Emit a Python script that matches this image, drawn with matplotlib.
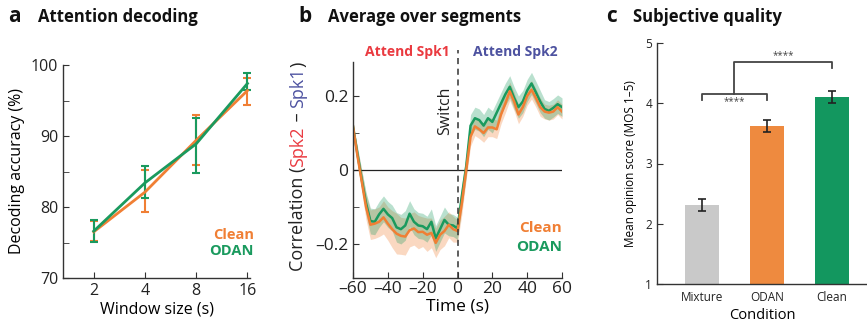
import numpy as np
import matplotlib
matplotlib.use("Agg")
import matplotlib.pyplot as plt

plt.rcParams['font.family'] = ['Open Sans', 'DejaVu Sans']
plt.rcParams['axes.unicode_minus'] = True

# colours
ORANGE = '#f07f34'
GREEN = '#1a9a5e'
GREY_BAR = '#c9c9c9'
ORANGE_BAR = '#ee8a3f'
GREEN_BAR = '#13975f'
RED_TXT = '#ea3a40'
BLUE_TXT = '#4d52a0'
AX = '#333333'

# --- a: decoding accuracy vs window size
window_sizes = [2, 4, 8, 16]
clean_acc = [76.5, 82.1, 89.4, 96.4]
clean_lo = [75.2, 79.3, 85.9, 94.4]
clean_hi = [78.0, 85.2, 93.0, 98.2]
odan_acc = [76.6, 83.4, 88.9, 97.4]
odan_lo = [75.1, 81.3, 84.8, 96.5]
odan_hi = [78.1, 85.8, 92.6, 98.9]

# --- b: correlation difference over time
time_s = [-60, -57.5, -55, -52.5, -50, -47.5, -45, -42.5, -40, -37.5, -35, -32.5,
          -30, -27.5, -25, -22.5, -20, -17.5, -15, -12.5, -10, -7.5, -5, -2.5,
          0, 2.5, 5, 7.5, 10, 12.5, 15, 17.5, 20, 22.5, 25, 27.5, 30, 32.5, 35,
          37.5, 40, 42.5, 45, 47.5, 50, 52.5, 55, 57.5, 60]
clean_corr = [0.118, 0.04, -0.03, -0.10, -0.148, -0.145, -0.14, -0.128, -0.145,
              -0.16, -0.172, -0.178, -0.18, -0.163, -0.158, -0.168, -0.167,
              -0.175, -0.17, -0.197, -0.175, -0.165, -0.148, -0.16, -0.165,
              -0.09, 0.0, 0.09, 0.118, 0.11, 0.10, 0.115, 0.115, 0.11, 0.15,
              0.18, 0.213, 0.185, 0.15, 0.17, 0.20, 0.217, 0.195, 0.17, 0.158,
              0.155, 0.158, 0.17, 0.158]
odan_corr = [0.118, 0.045, -0.025, -0.09, -0.138, -0.14, -0.12, -0.105, -0.12,
             -0.13, -0.155, -0.16, -0.15, -0.118, -0.14, -0.15, -0.152, -0.16,
             -0.14, -0.185, -0.16, -0.135, -0.148, -0.15, -0.158, -0.07, 0.01,
             0.12, 0.14, 0.135, 0.12, 0.14, 0.13, 0.155, 0.18, 0.205, 0.225,
             0.195, 0.17, 0.185, 0.215, 0.234, 0.21, 0.185, 0.165, 0.16, 0.168,
             0.178, 0.17]
clean_sem = [0.005, 0.02, 0.03, 0.035, 0.04, 0.04, 0.04, 0.045, 0.045, 0.05,
             0.055, 0.05, 0.05, 0.045, 0.045, 0.045, 0.04, 0.045, 0.04, 0.04,
             0.04, 0.04, 0.035, 0.035, 0.03, 0.03, 0.025, 0.025, 0.025, 0.025,
             0.025, 0.025, 0.025, 0.025, 0.025, 0.025, 0.025, 0.025, 0.025,
             0.025, 0.025, 0.025, 0.025, 0.025, 0.02, 0.02, 0.02, 0.02, 0.02]
odan_sem = [0.005, 0.02, 0.025, 0.03, 0.035, 0.035, 0.035, 0.035, 0.035, 0.035,
            0.04, 0.04, 0.04, 0.035, 0.035, 0.035, 0.035, 0.035, 0.035, 0.035,
            0.035, 0.035, 0.03, 0.03, 0.03, 0.03, 0.03, 0.03, 0.03, 0.03, 0.03,
            0.03, 0.03, 0.03, 0.03, 0.03, 0.03, 0.03, 0.03, 0.03, 0.03, 0.03,
            0.03, 0.03, 0.025, 0.025, 0.025, 0.025, 0.025]

# --- c: mean opinion scores
conditions = ['Mixture', 'ODAN', 'Clean']
mos = [2.31, 3.62, 4.10]
mos_err = [0.095, 0.1, 0.1]

W, H = 867, 326
fig = plt.figure(figsize=(W / 100, H / 100), dpi=100)


def px_axes(left, top, right, bottom):
    return fig.add_axes([left / W, 1 - bottom / H, (right - left) / W, (bottom - top) / H])


def style(ax):
    for s in ('top', 'right'):
        ax.spines[s].set_visible(False)
    for s in ('left', 'bottom'):
        ax.spines[s].set_color(AX)
        ax.spines[s].set_linewidth(1.0)
    ax.tick_params(which='both', direction='in', color=AX, labelcolor='#222222')
    ax.tick_params(which='major', length=4)
    ax.tick_params(which='minor', length=4)


# ---------------- panel a
axa = px_axes(63, 65, 250, 278)
style(axa)
axa.set_xscale('log', base=2)
clean_err = [np.subtract(clean_acc, clean_lo), np.subtract(clean_hi, clean_acc)]
odan_err = [np.subtract(odan_acc, odan_lo), np.subtract(odan_hi, odan_acc)]
axa.errorbar(window_sizes, clean_acc, yerr=clean_err, color=ORANGE, lw=2,
             capsize=3, elinewidth=1.5, capthick=1.5)
axa.errorbar(window_sizes, odan_acc, yerr=odan_err, color=GREEN, lw=2,
             capsize=3, elinewidth=1.5, capthick=1.5)
axa.set_xlim(2 ** 0.4, 2 ** 4.05)
axa.set_ylim(70, 100)
axa.set_xticks(window_sizes)
axa.set_xticklabels([str(w) for w in window_sizes])
axa.xaxis.set_minor_locator(matplotlib.ticker.NullLocator())
axa.set_yticks([70, 80, 90, 100])
axa.set_yticks([75, 85, 95], minor=True)
axa.tick_params(labelsize=11.5)
axa.set_xlabel('Window size (s)', fontsize=11.5, labelpad=2)
axa.set_ylabel('Decoding accuracy (%)', fontsize=11.5, labelpad=4)
axa.text(1.02, 0.20, 'Clean', transform=axa.transAxes, ha='right', va='center',
         color=ORANGE, fontsize=10.5, fontweight='bold')
axa.text(1.02, 0.125, 'ODAN', transform=axa.transAxes, ha='right', va='center',
         color=GREEN, fontsize=10.5, fontweight='bold')

# ---------------- panel b
axb = px_axes(353, 62, 562, 278)
style(axb)
axb.fill_between(time_s, np.subtract(clean_corr, clean_sem), np.add(clean_corr, clean_sem),
                 color=ORANGE, alpha=0.3, lw=0)
axb.fill_between(time_s, np.subtract(odan_corr, odan_sem), np.add(odan_corr, odan_sem),
                 color=GREEN, alpha=0.3, lw=0)
axb.axhline(0, color='#222222', lw=0.9)
axb.plot(time_s, odan_corr, color=GREEN, lw=1.8)
axb.plot(time_s, clean_corr, color=ORANGE, lw=1.8)
axb.plot([0, 0], [-0.292, 0.325], color='#333333', lw=1.1, ls=(0, (4, 3)), clip_on=False)
axb.set_xlim(-60, 60)
axb.set_ylim(-0.292, 0.292)
axb.set_xticks([-60, -40, -20, 0, 20, 40, 60])
axb.set_xticklabels(['\u201360', '\u201340', '\u201320', '0', '20', '40', '60'])
axb.set_yticks([-0.2, 0, 0.2])
axb.set_yticklabels(['\u20130.2', '0', '0.2'])
axb.set_yticks([-0.1, 0.1], minor=True)
axb.tick_params(labelsize=12.5)
axb.tick_params(axis='x', pad=2)
axb.set_xlabel('Time (s)', fontsize=12.5, labelpad=1)
axb.text(-7, 0.16, 'Switch', rotation=90, ha='center', va='center',
         fontsize=11.5, color='#222222')
axb.text(-29, 0.319, 'Attend Spk1', ha='center', va='center', fontsize=10,
         fontweight='bold', color=RED_TXT, clip_on=False)
axb.text(33, 0.319, 'Attend Spk2', ha='center', va='center', fontsize=10,
         fontweight='bold', color=BLUE_TXT, clip_on=False)
axb.text(1.0, 0.23, 'Clean', transform=axb.transAxes, ha='right', va='center',
         color=ORANGE, fontsize=11, fontweight='bold')
axb.text(1.0, 0.145, 'ODAN', transform=axb.transAxes, ha='right', va='center',
         color=GREEN, fontsize=11, fontweight='bold')

# multicoloured y label, built bottom-up from pieces
renderer = fig.canvas.get_renderer()
ylab_parts = [('Correlation (', '#222222'), ('Spk2', RED_TXT), (' \u2013 ', '#222222'),
              ('Spk1', BLUE_TXT), (')', '#222222')]
y0 = 1 - 271 / H
for s, c in ylab_parts:
    t = fig.text(298 / W, y0, s, rotation=90, ha='center', va='bottom',
                 fontsize=13, color=c)
    bb = t.get_window_extent(renderer)
    y0 += bb.height / H

# ---------------- panel c
axc = px_axes(657, 43, 867, 284)
style(axc)
xc = np.arange(len(conditions))
axc.bar(xc, mos, width=0.52, color=[GREY_BAR, ORANGE_BAR, GREEN_BAR])
axc.errorbar(xc, mos, yerr=mos_err, fmt='none', ecolor='#222222', elinewidth=1.2,
             capsize=3, capthick=1.2)
axc.set_xlim(-0.69, 2.54)
axc.set_ylim(1, 5)
axc.set_xticks(xc)
axc.set_xticklabels(conditions)
axc.set_yticks([1, 2, 3, 4, 5])
axc.tick_params(axis='x', length=0, pad=5)
axc.tick_params(labelsize=8.5)
axc.set_xlabel('Condition', fontsize=10.5, labelpad=3)
axc.set_ylabel('Mean opinion score (MOS 1\u20135)', fontsize=8.5, labelpad=6)

# significance brackets
bk = dict(color='#444444', lw=1.3, clip_on=False)
axc.plot([0, 0, 1, 1], [4.06, 4.15, 4.15, 4.06], **bk)
axc.plot([0.5, 0.5, 2, 2], [4.15, 4.68, 4.68, 4.59], **bk)
axc.text(0.5, 4.12, '****', ha='center', va='top', fontsize=7, color='#444444')
axc.text(1.25, 4.70, '****', ha='center', va='bottom', fontsize=7, color='#444444')

# panel letters and titles
for x, letter in [(8, 'a'), (298, 'b'), (606, 'c')]:
    fig.text(x / W, 1 - 17 / H, letter, fontsize=15, fontweight='bold', va='center',
             color='#111111')
for x, title in [(38, 'Attention decoding'), (328, 'Average over segments'),
                 (633, 'Subjective quality')]:
    fig.text(x / W, 1 - 17 / H, title, fontsize=12, fontweight='bold', va='center',
             color='#111111')

fig.savefig('out.png', dpi=100)
